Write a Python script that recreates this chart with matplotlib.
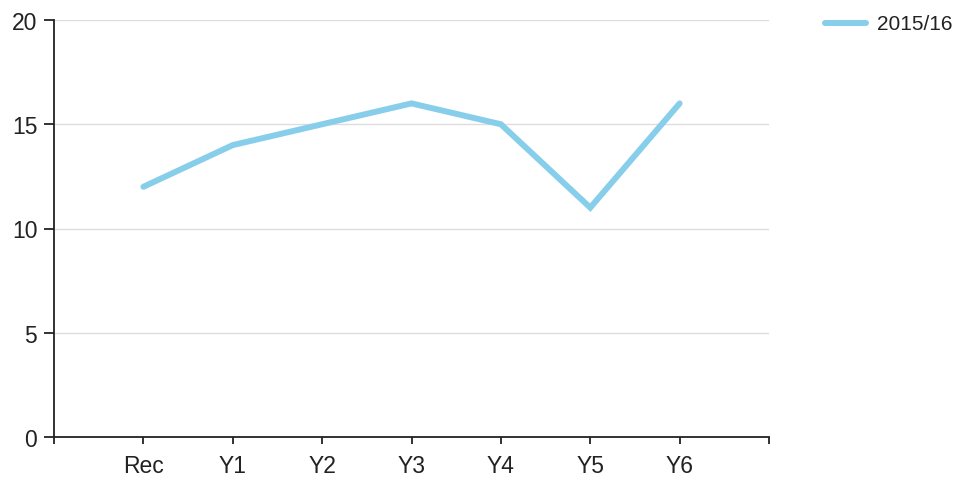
import matplotlib
matplotlib.use("Agg")
import matplotlib.pyplot as plt
from matplotlib.lines import Line2D

categories = ["Rec", "Y1", "Y2", "Y3", "Y4", "Y5", "Y6"]
values = [12, 14, 15, 16, 15, 11, 16]
series_name = "2015/16"
yticks = [0, 5, 10, 15, 20]

plt.rcParams['font.family'] = ['Liberation Sans', 'DejaVu Sans']

W, H = 958, 485
fig = plt.figure(figsize=(W/100, H/100), dpi=100)
ax = fig.add_axes([54/W, 1-438/H, (769-54)/W, (438-21)/H])

x = list(range(len(categories)))
ax.plot(x, values, color="#87CEEB", lw=4.3, solid_joinstyle="miter",
        solid_capstyle="round", zorder=3)

ax.set_xlim(-1, len(categories))
ax.set_ylim(0, 20)
ax.set_xticks([-1] + x + [len(categories)])
ax.set_xticklabels([""] + categories + [""])
ax.set_yticks(yticks)
ax.set_yticklabels([str(v) for v in yticks])
for v in yticks[1:]:
    ax.axhline(v, color="#DDDDDD", lw=1, zorder=1)

for s in ["top", "right"]:
    ax.spines[s].set_visible(False)
for s in ["left", "bottom"]:
    ax.spines[s].set_color("#222222")
    ax.spines[s].set_linewidth(1.3)
ax.tick_params(axis="both", colors="#222222", width=1.3, labelsize=16.5, labelcolor="#222222")
ax.tick_params(axis="x", length=5, pad=7)
ax.tick_params(axis="y", length=7, pad=5)

fig.lines.append(Line2D([825/W, 866/W], [1-24/H, 1-24/H], color="#87CEEB", lw=4.3,
                        solid_capstyle="round", transform=fig.transFigure))
fig.text(877/W, 1-24/H, series_name, fontsize=15, color="#222222", va="center", ha="left")

fig.savefig("out.png", dpi=100)
